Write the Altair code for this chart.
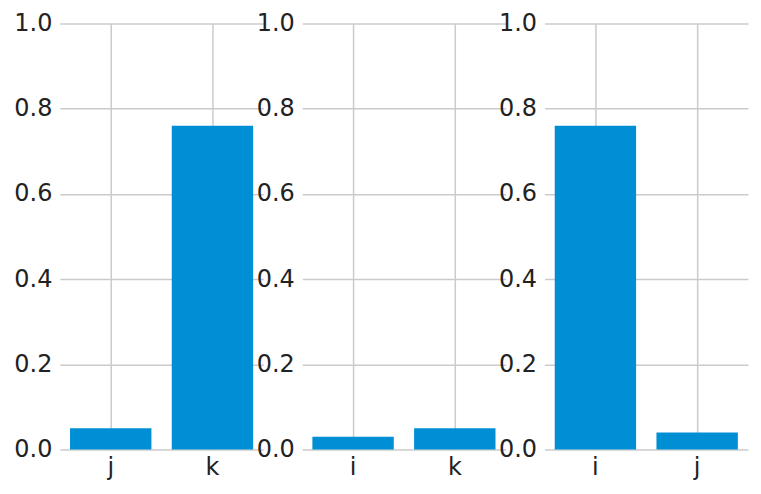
import altair as alt
import pandas as pd

panel1_cats = ["j", "k"]
panel1_vals = [0.05, 0.76]
panel2_cats = ["i", "k"]
panel2_vals = [0.03, 0.05]
panel3_cats = ["i", "j"]
panel3_vals = [0.76, 0.04]

panels = [(panel1_cats, panel1_vals), (panel2_cats, panel2_vals), (panel3_cats, panel3_vals)]

FONT = "DejaVu Sans"
FS = 24
GRID = "#cbcbcb"
BAR = "#008fd5"

charts = []
for cats, vals in panels:
    df = pd.DataFrame({"cat": cats, "val": vals})
    c = alt.Chart(df).mark_bar(color=BAR).encode(
        x=alt.X("cat:N", sort=cats, title=None,
                scale=alt.Scale(paddingInner=0.2, paddingOuter=0.1),
                axis=alt.Axis(labelAngle=0, grid=True, ticks=False, domain=False,
                              labelFontSize=FS, labelFont=FONT, labelColor="#222222",
                              gridColor=GRID, gridWidth=1.5, labelPadding=6)),
        y=alt.Y("val:Q", title=None,
                scale=alt.Scale(domain=[0, 1], nice=False),
                axis=alt.Axis(values=[0, 0.2, 0.4, 0.6, 0.8, 1.0], format=".1f",
                              grid=True, ticks=False, domain=False,
                              labelFontSize=FS, labelFont=FONT, labelColor="#222222",
                              gridColor=GRID, gridWidth=1.5, labelPadding=8)),
    ).properties(width=204, height=427)
    charts.append(c)

chart = (
    alt.hconcat(*charts, spacing=-8)
    .properties(padding={"left": 5, "top": 3, "right": 5, "bottom": 5})
    .configure(background="white")
    .configure_view(stroke=None)
)
chart.save("out.html", embed_options={"renderer": "svg", "actions": False})
